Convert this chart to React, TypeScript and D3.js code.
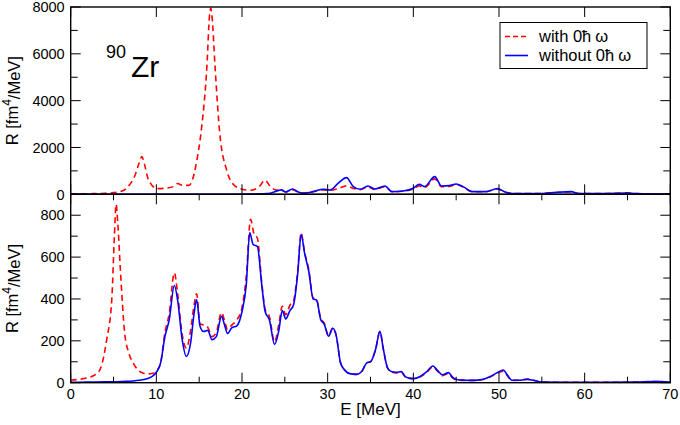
import * as d3 from "d3";
import React, { useEffect, useRef } from "react";

type Pt = [number, number]; // [E in MeV, R in fm^4/MeV]

// upper panel
const topWith: Pt[] = [
  [0, 20], [2, 25], [4, 40], [5, 70], [6, 140], [6.9, 420], [7.5, 800], [8, 1350], [8.3, 1610],
  [8.6, 1300], [9, 700], [9.5, 380], [10, 240], [11, 260], [12, 330], [12.5, 460], [13, 390],
  [13.8, 380], [14.2, 600], [14.7, 1400], [15.3, 2900], [15.9, 5460], [16.2, 7600], [16.35, 7950],
  [16.5, 7600], [16.85, 5460], [17.4, 2610], [18.2, 1040], [19, 420], [20, 220], [21, 170],
  [22, 330], [22.7, 600], [23.3, 330], [24, 180], [24.6, 170], [25.1, 100], [25.9, 200],
  [26.5, 100], [27.2, 60], [28.3, 110], [29.5, 190], [30.3, 170], [31.3, 260], [32.2, 360],
  [33, 250], [33.8, 200], [34.7, 310], [35.5, 210], [36.7, 330], [37.5, 110], [38.8, 130],
  [40, 230], [40.7, 360], [41.3, 290], [42.5, 660], [43.3, 320], [44.2, 340], [45, 420],
  [45.8, 310], [46.9, 110], [48.5, 110], [49.8, 230], [50.8, 80], [51.6, 28], [54.7, 28],
  [56.3, 70], [58.4, 100], [59.4, 28], [62, 30], [64.9, 60], [66, 30], [70, 10],
];
const topWithout: Pt[] = [
  [0, 0], [10, 0], [18, 2], [21, 10], [23, 30], [24.2, 157], [24.6, 190], [25.1, 100],
  [25.9, 228], [26.5, 110], [27.2, 43], [28.3, 114], [29.5, 214], [30.3, 185], [31.3, 500],
  [32.2, 713], [33, 328], [33.8, 214], [34.7, 356], [35.5, 228], [36.7, 356], [37.5, 114],
  [38.8, 143], [40, 257], [40.7, 428], [41.3, 328], [42.5, 756], [43.3, 356], [44.2, 370],
  [45, 442], [45.8, 328], [46.9, 114], [48.5, 114], [49.8, 242], [50.8, 86], [51.6, 28],
  [54.7, 28], [56.3, 71], [58.4, 114], [59.4, 28], [62, 30], [64.9, 57], [66, 30], [70, 10],
];

// lower panel
const bottomWith: Pt[] = [
  [0, 13], [1, 16], [2, 24], [3, 42], [3.5, 70], [4.2, 205], [4.8, 400], [5.1, 700], [5.3, 853],
  [5.5, 760], [5.8, 540], [6.3, 237], [6.8, 140], [7.3, 93], [8, 55], [8.5, 45], [9, 42],
  [9.5, 44], [10, 55], [10.5, 95], [11, 240], [11.5, 330], [12.1, 525], [12.5, 420], [13, 235],
  [13.5, 165], [14, 250], [14.4, 370], [14.7, 425], [15.1, 280], [15.6, 275], [16, 265],
  [16.5, 220], [17, 240], [17.6, 335], [18, 290], [18.3, 255], [18.8, 275], [19.4, 300],
  [20, 360], [20.5, 510], [21, 780], [21.4, 710], [21.8, 690], [22.3, 480], [22.7, 350],
  [23.2, 315], [23.8, 195], [24.3, 280], [24.7, 365], [25.1, 325], [25.6, 370], [26, 390],
  [26.5, 535], [26.9, 715], [27.3, 625], [27.8, 540], [28.3, 405], [28.7, 398], [29.2, 305],
  [29.6, 285], [30.1, 225], [30.6, 262], [31, 225], [31.5, 95], [32, 60], [32.7, 42], [33.4, 40],
  [34, 55], [34.6, 96], [35, 100], [35.6, 160], [36.1, 245], [36.5, 160], [37, 70], [37.5, 50],
  [38, 46], [38.6, 50], [39, 30], [39.5, 21], [40, 19], [40.8, 28], [41.5, 47], [42.3, 76],
  [42.8, 56], [43.4, 34], [44.1, 43], [44.6, 22], [45.2, 13], [46, 11], [47, 11], [48, 14],
  [49, 28], [49.8, 44], [50.5, 55], [51, 32], [51.5, 11], [52.5, 12], [53.3, 18], [54, 12],
  [55, 3], [58, 2], [62, 2], [66, 3], [68, 6], [69, 5], [70, 2],
];
const bottomWithout: Pt[] = [
  [0, 2], [2, 3], [4, 4], [6, 6], [8, 12], [9, 20], [9.5, 30], [10, 50], [10.5, 95], [11, 220],
  [11.5, 300], [12.1, 464], [12.5, 390], [13, 210], [13.5, 125], [14, 190], [14.4, 330],
  [14.7, 397], [15.1, 270], [15.5, 245], [16, 250], [16.5, 205], [17, 220], [17.6, 317],
  [18, 270], [18.3, 235], [18.8, 262], [19.4, 272], [20, 340], [20.5, 470], [20.9, 717],
  [21.3, 660], [21.8, 650], [22.3, 470], [22.7, 340], [23.2, 300], [23.8, 183], [24.3, 250],
  [24.7, 345], [25.1, 305], [25.6, 345], [26, 370], [26.5, 520], [26.9, 709], [27.3, 620],
  [27.8, 530], [28.3, 400], [28.7, 395], [29.2, 300], [29.6, 280], [30.1, 222], [30.6, 260],
  [31, 225], [31.5, 95], [32, 60], [32.7, 42], [33.4, 40], [34, 55], [34.6, 96], [35, 100],
  [35.6, 160], [36.1, 245], [36.5, 160], [37, 70], [37.5, 52], [38, 50], [38.6, 53], [39, 32],
  [39.5, 22], [40, 20], [40.8, 30], [41.5, 50], [42.3, 80], [42.8, 60], [43.4, 38], [44.1, 48],
  [44.6, 25], [45.2, 14], [46, 12], [47, 11], [48, 15], [49, 30], [49.8, 48], [50.5, 61],
  [51, 35], [51.5, 12], [52.5, 12], [53.3, 16], [54, 12], [55, 3], [58, 2], [62, 2], [66, 3],
  [68, 6], [69, 5], [70, 2],
];

const xTicks = [0, 10, 20, 30, 40, 50, 60, 70];
const topYTicks = [0, 2000, 4000, 6000, 8000];
const bottomYTicks = [0, 200, 400, 600, 800];

const font = "'Liberation Sans', Arial, Helvetica, sans-serif";

export default function App() {
  const svgRef = useRef<SVGSVGElement>(null);

  useEffect(() => {
    if (!svgRef.current) return;
    const width = 680;
    const height = 425;
    const left = 70.7;
    const right = 670.3;

    const svg = d3
      .select(svgRef.current)
      .attr("width", width)
      .attr("height", height)
      .attr("viewBox", [0, 0, width, height])
      .style("font-family", font);
    svg.selectAll("*").remove();

    const x = d3.scaleLinear([0, 70], [left, right]);

    function panel(
      top: number,
      bottom: number,
      yMax: number,
      yStep: number,
      yTicks: number[],
      xMinor: boolean,
      withPts: Pt[],
      withoutPts: Pt[],
      id: string
    ) {
      const y = d3.scaleLinear([0, yMax], [bottom, top]);
      const g = svg.append("g");

      g.append("clipPath")
        .attr("id", id)
        .append("rect")
        .attr("x", left)
        .attr("y", top)
        .attr("width", right - left)
        .attr("height", bottom - top);

      const line = d3
        .line<Pt>()
        .x((d) => x(d[0]))
        .y((d) => y(d[1]))
        .curve(d3.curveMonotoneX);

      g.append("path")
        .attr("clip-path", `url(#${id})`)
        .attr("d", line(withPts))
        .attr("fill", "none")
        .attr("stroke", "#ff0000")
        .attr("stroke-width", 1.6)
        .attr("stroke-dasharray", "6,4");
      g.append("path")
        .attr("clip-path", `url(#${id})`)
        .attr("d", line(withoutPts))
        .attr("fill", "none")
        .attr("stroke", "#0000ff")
        .attr("stroke-width", 1.6);

      // y ticks on both sides
      const ys = d3.range(0, yMax + 1e-6, yStep);
      ys.forEach((v) => {
        const major = yTicks.includes(v);
        const len = major ? 10 : 7;
        g.append("line")
          .attr("x1", left).attr("x2", left + len)
          .attr("y1", y(v)).attr("y2", y(v))
          .attr("stroke", "#000");
        g.append("line")
          .attr("x1", right).attr("x2", right - len)
          .attr("y1", y(v)).attr("y2", y(v))
          .attr("stroke", "#000");
      });
      yTicks.forEach((v) => {
        g.append("text")
          .attr("x", left - 6)
          .attr("y", y(v))
          .attr("dy", "0.36em")
          .attr("text-anchor", "end")
          .attr("font-size", 14.5)
          .text(String(v));
      });

      // x ticks top and bottom
      const xs = d3.range(0, 71, xMinor ? 5 : 10);
      xs.forEach((v) => {
        const len = v % 10 === 0 ? 10 : 6;
        g.append("line")
          .attr("x1", x(v)).attr("x2", x(v))
          .attr("y1", bottom).attr("y2", bottom - len)
          .attr("stroke", "#000");
        g.append("line")
          .attr("x1", x(v)).attr("x2", x(v))
          .attr("y1", top).attr("y2", top + len)
          .attr("stroke", "#000");
      });

      g.append("rect")
        .attr("x", left)
        .attr("y", top)
        .attr("width", right - left)
        .attr("height", bottom - top)
        .attr("fill", "none")
        .attr("stroke", "#000")
        .attr("stroke-width", 1.4);

      // y label
      const lab = g
        .append("text")
        .attr("transform", `translate(18,${(top + bottom) / 2}) rotate(-90)`)
        .attr("text-anchor", "middle")
        .attr("font-size", 16.5);
      lab.append("tspan").text("R [fm");
      lab.append("tspan").attr("dy", "-0.55em").attr("font-size", 12).text("4");
      lab.append("tspan").attr("dy", "0.55em").text("/MeV]");
    }

    panel(7, 194.3, 8000, 1000, topYTicks, false, topWith, topWithout, "clipTop");
    panel(194.3, 382.7, 900, 100, bottomYTicks, true, bottomWith, bottomWithout, "clipBottom");

    // x tick labels
    xTicks.forEach((v) => {
      svg.append("text")
        .attr("x", x(v))
        .attr("y", 399)
        .attr("text-anchor", "middle")
        .attr("font-size", 14.5)
        .text(String(v));
    });
    svg.append("text")
      .attr("x", (left + right) / 2)
      .attr("y", 415)
      .attr("text-anchor", "middle")
      .attr("font-size", 17)
      .text("E [MeV]");

    // nucleus label
    svg.append("text").attr("x", 106).attr("y", 58).attr("font-size", 18).text("90");
    svg.append("text").attr("x", 131).attr("y", 77).attr("font-size", 30).text("Zr");

    // legend
    const lg = svg.append("g");
    lg.append("rect")
      .attr("x", 500).attr("y", 22.5).attr("width", 147).attr("height", 46)
      .attr("fill", "#fff").attr("stroke", "#000").attr("stroke-width", 1);
    const entries = [
      { label: "with 0ħ", color: "#ff0000", dash: "5,3", yy: 36.5 },
      { label: "without 0ħ", color: "#0000ff", dash: null, yy: 55.5 },
    ];
    entries.forEach((e) => {
      lg.append("line")
        .attr("x1", 505).attr("x2", 528)
        .attr("y1", e.yy).attr("y2", e.yy)
        .attr("stroke", e.color)
        .attr("stroke-width", 1.6)
        .attr("stroke-dasharray", e.dash);
      const t = lg.append("text")
        .attr("x", 539)
        .attr("y", e.yy + 5.5)
        .attr("font-size", 16.5);
      t.append("tspan").text(e.label);
      t.append("tspan").attr("dx", 4).text("ω");
    });
  }, []);

  return (
    <svg ref={svgRef} style={{ position: "absolute", left: 0, top: 0, background: "#fff" }} />
  );
}
